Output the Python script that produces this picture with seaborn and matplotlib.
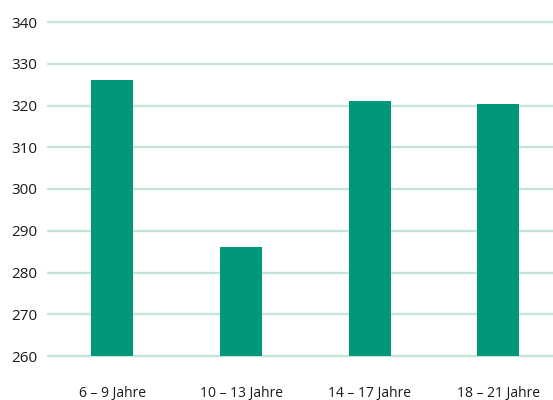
import matplotlib
matplotlib.use("Agg")
import matplotlib.pyplot as plt
import seaborn as sns
import pandas as pd

categories = ["6 – 9 Jahre", "10 – 13 Jahre", "14 – 17 Jahre", "18 – 21 Jahre"]
values = [326.1, 286.0, 321.1, 320.4]
yticks = [260, 270, 280, 290, 300, 310, 320, 330, 340]

sns.set_theme(style="white")
plt.rcParams['font.family'] = ['Open Sans', 'DejaVu Sans']

df = pd.DataFrame({"Altersgruppe": categories, "Wert": values})

fig = plt.figure(figsize=(5.53, 4.0), dpi=100)
W, H = 553, 400
left, right, top, bottom = 48, 553, 22, 356
ax = fig.add_axes([left / W, 1 - bottom / H, (right - left) / W, (bottom - top) / H])

sns.barplot(data=df, x="Altersgruppe", y="Wert", color="#009878", width=0.326,
            saturation=1, ax=ax, zorder=3, linewidth=0)

ax.set_ylim(260, 340)
ax.set_xlim(-0.5, 3.424)
ax.set_yticks(yticks)
ax.set_yticklabels([str(t) for t in yticks])
for t in yticks:
    ax.axhline(t, color="#c3e4d8", lw=1.7, zorder=1, clip_on=False)
ax.grid(False)
for s in ax.spines.values():
    s.set_visible(False)
ax.set_xlabel("")
ax.set_ylabel("")
ax.tick_params(axis="y", length=0, pad=8, labelsize=11, labelcolor="#1a1a1a")
ax.tick_params(axis="x", length=0, pad=21.5, labelsize=10, labelcolor="#1a1a1a")

fig.savefig("out.png", dpi=100)
